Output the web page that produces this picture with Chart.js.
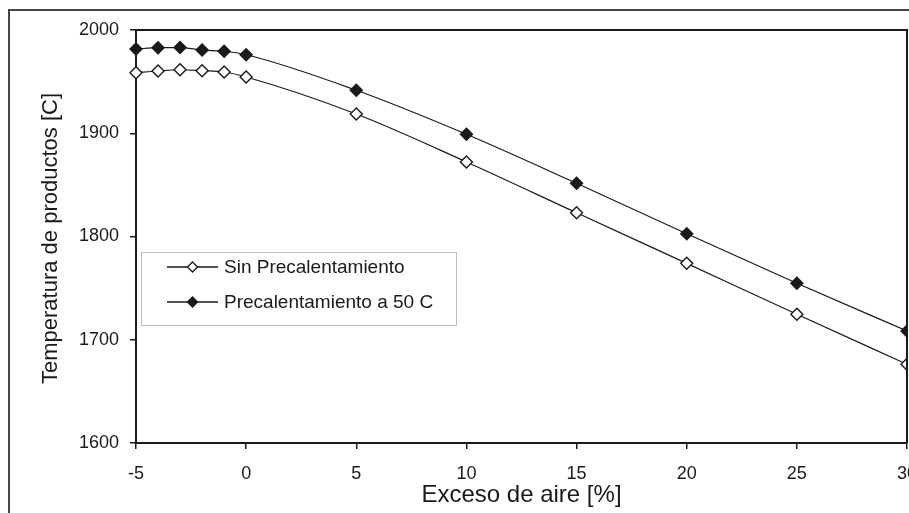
<!DOCTYPE html>
<html>
<head>
<meta charset="utf-8">
<script src="https://cdn.jsdelivr.net/npm/chart.js@4/dist/chart.umd.min.js"></script>
<style>
  html, body { margin: 0; padding: 0; background: #fff; }
  #wrap { width: 909px; height: 513px; }
</style>
</head>
<body>
<div id="wrap"><canvas id="tempChart" width="909" height="513"></canvas></div>
<script>
/* ======================================
   DATA
====================================== */
const excesoAire = [-5, -4, -3, -2, -1, 0, 5, 10, 15, 20, 25, 30];
const sinPrecalentamiento = [1958.6, 1960.3, 1961.5, 1960.6, 1959.3, 1954.5, 1918.6, 1872.2, 1823.0, 1774.0, 1724.7, 1676.2];
const precalentamiento50 = [1981.6, 1982.9, 1983.0, 1980.6, 1979.4, 1976.0, 1941.6, 1899.0, 1851.5, 1802.7, 1754.7, 1708.5];

const seriesNames = ["Sin Precalentamiento", "Precalentamiento a 50 C"];
const xTicks = [-5, 0, 5, 10, 15, 20, 25, 30];
const yTicks = [1600, 1700, 1800, 1900, 2000];
const xTitle = "Exceso de aire [%]";
const yTitle = "Temperatura de productos [C]";

const FONT = "'Liberation Sans', Arial, sans-serif";
const INK = "#1a1a1a";
const NO_PAD = () => ({ left: 0, top: 0, right: 0, bottom: 0 });


/* ======================================
   FRAMES, AXIS TITLES AND LEGEND
====================================== */
const decorPlugin = {
    id: "decor",
    afterDraw(chart) {
        const { ctx, chartArea: a } = chart;
        ctx.save();

        // outer frame (runs off the right and bottom of the picture)
        ctx.strokeStyle = "#444";
        ctx.lineWidth = 2;
        ctx.strokeRect(9, 10, 1000, 1000);

        // plot area box (top + right sides)
        ctx.strokeStyle = INK;
        ctx.lineWidth = 2;
        ctx.beginPath();
        ctx.moveTo(a.left, a.top);
        ctx.lineTo(a.right, a.top);
        ctx.lineTo(a.right, a.bottom);
        ctx.stroke();

        // axis titles
        ctx.fillStyle = INK;
        ctx.font = "24px " + FONT;
        ctx.textAlign = "center";
        ctx.textBaseline = "alphabetic";
        ctx.fillText(xTitle, (a.left + a.right) / 2, 502);

        ctx.save();
        ctx.translate(57, (a.top + a.bottom) / 2 + 2);
        ctx.rotate(-Math.PI / 2);
        ctx.font = "22px " + FONT;
        ctx.fillText(yTitle, 0, 0);
        ctx.restore();

        // legend box
        const lx = 141, ly = 252, lw = 315, lh = 73;
        ctx.fillStyle = "#fff";
        ctx.fillRect(lx, ly, lw, lh);
        ctx.strokeStyle = "#bdbdbd";
        ctx.lineWidth = 1;
        ctx.strokeRect(lx + 0.5, ly + 0.5, lw, lh);

        const rows = [267, 302];
        chart.data.datasets.forEach((ds, i) => {
            const y = rows[i];
            ctx.strokeStyle = INK;
            ctx.lineWidth = 1.5;
            ctx.beginPath();
            ctx.moveTo(167, y);
            ctx.lineTo(218, y);
            ctx.stroke();

            ctx.fillStyle = ds.pointBackgroundColor;
            ctx.lineWidth = 1.3;
            ctx.beginPath();
            ctx.moveTo(192.5, y - 5);
            ctx.lineTo(197.5, y);
            ctx.lineTo(192.5, y + 5);
            ctx.lineTo(187.5, y);
            ctx.closePath();
            ctx.fill();
            ctx.stroke();

            ctx.fillStyle = INK;
            ctx.font = "19px " + FONT;
            ctx.textAlign = "left";
            ctx.textBaseline = "middle";
            ctx.fillText(ds.label, 224, y + 1);
        });

        ctx.restore();
    }
};


/* ======================================
   CHART BUILDER
====================================== */
function makeSeries(label, values, fill) {
    return {
        label,
        data: excesoAire.map((x, i) => ({ x, y: values[i] })),
        borderColor: INK,
        borderWidth: 1.2,
        pointStyle: "rectRot",
        pointRadius: 6,
        pointHoverRadius: 6,
        pointBorderWidth: 1.4,
        pointBorderColor: INK,
        pointBackgroundColor: fill,
        cubicInterpolationMode: "monotone",
        fill: false,
        clip: { left: 8, top: 8, right: 0, bottom: 8 }
    };
}

const ctx = document.getElementById("tempChart").getContext("2d");

new Chart(ctx, {
    type: "line",
    data: {
        datasets: [
            makeSeries(seriesNames[0], sinPrecalentamiento, "#ffffff"),
            makeSeries(seriesNames[1], precalentamiento50, INK)
        ]
    },
    options: {
        responsive: false,
        animation: false,
        events: [],
        layout: {
            autoPadding: false,
            padding: { left: 0, top: 30, right: 2, bottom: 0 }
        },
        plugins: {
            legend: { display: false },
            tooltip: { enabled: false }
        },
        scales: {
            x: {
                type: "linear",
                min: -5,
                max: 30,
                afterBuildTicks: s => { s.ticks = xTicks.map(v => ({ value: v })); },
                afterFit: s => {
                    s.height = 70;
                    s.paddingLeft = 0;
                    s.paddingRight = 0;
                    s.getPadding = NO_PAD;
                },
                ticks: {
                    color: INK,
                    font: { family: FONT, size: 18 },
                    padding: 14,
                    maxRotation: 0,
                    callback: v => String(v)
                },
                grid: {
                    drawOnChartArea: false,
                    drawTicks: true,
                    tickLength: 6,
                    tickColor: INK,
                    lineWidth: 1.5
                },
                border: { display: true, color: INK, width: 2 }
            },
            y: {
                min: 1600,
                max: 2000,
                afterBuildTicks: s => { s.ticks = yTicks.map(v => ({ value: v })); },
                afterFit: s => {
                    s.width = 136;
                    s.paddingTop = 0;
                    s.paddingBottom = 0;
                    s.getPadding = NO_PAD;
                },
                ticks: {
                    color: INK,
                    font: { family: FONT, size: 18 },
                    padding: 11,
                    callback: v => String(v)
                },
                grid: {
                    drawOnChartArea: false,
                    drawTicks: true,
                    tickLength: 6,
                    tickColor: INK,
                    lineWidth: 1.5
                },
                border: { display: true, color: INK, width: 2 }
            }
        }
    },
    plugins: [decorPlugin]
});
</script>
</body>
</html>
